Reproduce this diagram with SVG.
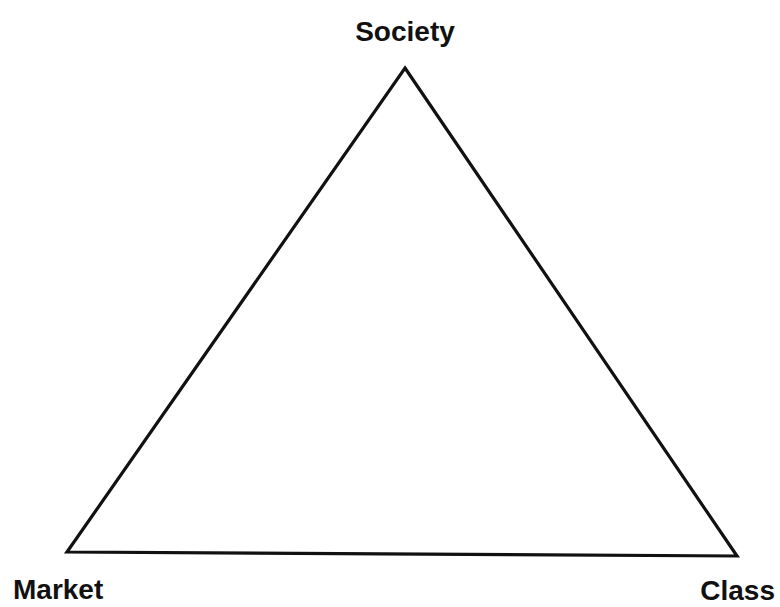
<svg xmlns="http://www.w3.org/2000/svg" width="780" height="607" viewBox="0 0 780 607">
<style>
.lbl{font-family:"Liberation Sans",Arial,sans-serif;font-weight:bold;font-size:28px;fill:#111}
.edge{stroke:#111;stroke-width:3.2;fill:none;stroke-linejoin:miter}
</style>
<rect width="780" height="607" fill="#fff"/>
<g id="connectors">
<path class="edge" d="M405,68 L737,556 L67,552 Z"/>
</g>
<g id="society"><text class="lbl" x="405" y="41" text-anchor="middle" font-size="29">Society</text></g>
<g id="market"><text class="lbl" x="13" y="599">Market</text></g>
<g id="class"><text class="lbl" x="775" y="600" text-anchor="end">Class</text></g>
</svg>
